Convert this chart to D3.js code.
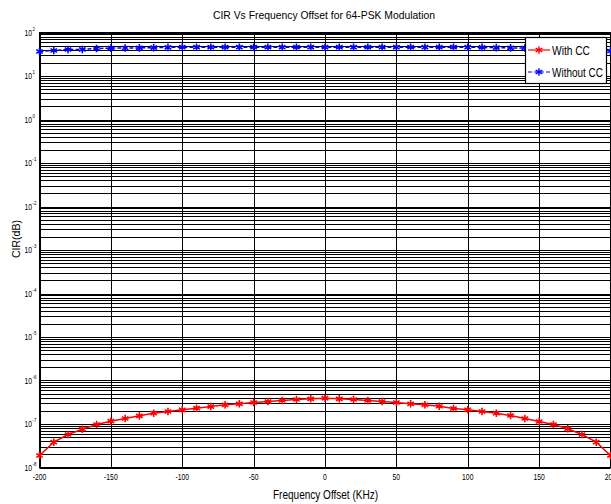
<!DOCTYPE html>
<html>
<head>
<meta charset="utf-8">
<script src="https://cdn.jsdelivr.net/npm/d3@7"></script>
<style>
  body { margin: 0; background: #fff; }
  svg text { font-family: "Liberation Sans", Arial, sans-serif; }
</style>
</head>
<body>
<div id="chart"></div>
<script>
// frequency offsets (KHz)
const freq = [-200, -190, -180, -170, -160, -150, -140, -130, -120, -110, -100,
  -90, -80, -70, -60, -50, -40, -30, -20, -10, 0,
  10, 20, 30, 40, 50, 60, 70, 80, 90, 100,
  110, 120, 130, 140, 150, 160, 170, 180, 190, 200];

// With CC (red)
const withCC = [1.89e-8, 3.82e-8, 5.74e-8, 7.6e-8, 9.75e-8, 1.16e-7, 1.34e-7, 1.54e-7, 1.77e-7, 1.94e-7, 2.12e-7,
  2.31e-7, 2.52e-7, 2.76e-7, 2.91e-7, 3.12e-7, 3.29e-7, 3.47e-7, 3.66e-7, 3.79e-7, 3.92e-7,
  3.79e-7, 3.66e-7, 3.47e-7, 3.29e-7, 3.12e-7, 2.91e-7, 2.76e-7, 2.56e-7, 2.27e-7, 2.12e-7,
  1.94e-7, 1.77e-7, 1.57e-7, 1.34e-7, 1.14e-7, 9.75e-8, 7.76e-8, 5.74e-8, 3.82e-8, 1.89e-8];

// Without CC (blue)
const withoutCC = [36.6, 38.5, 40.6, 40.8, 42.9, 43.8, 44.0, 44.3, 45.0, 45.4, 45.9,
  45.9, 45.9, 45.9, 45.9, 45.9, 45.9, 45.9, 45.9, 45.9, 45.9,
  45.9, 45.9, 45.9, 45.9, 45.9, 45.9, 45.9, 45.9, 45.9, 45.9,
  45.4, 45.0, 44.3, 44.0, 43.8, 42.9, 40.8, 40.6, 38.5, 37.5];

const xTicks = [-200, -150, -100, -50, 0, 50, 100, 150, 200];
const yExponents = [-8, -7, -6, -5, -4, -3, -2, -1, 0, 1, 2];
const seriesNames = ["With CC", "Without CC"];

const width = 611, height = 504;
const plot = { left: 39.5, right: 610.5, top: 32.5, bottom: 467.5 };
const squeeze = 0.8; // narrow look of the original font

const svg = d3.select("#chart").append("svg")
  .attr("width", width)
  .attr("height", height);

const x = d3.scaleLinear().domain([-200, 200]).range([plot.left, plot.right]);
const y = d3.scaleLog().domain([1e-8, 1e2]).range([plot.bottom, plot.top]);

// minor grid (horizontal)
const minor = [];
yExponents.slice(0, -1).forEach(e => {
  for (let m = 1; m <= 9; m++) minor.push(m * Math.pow(10, e));
});
minor.push(1e2);

const grid = svg.append("g");
grid.selectAll("line.h").data(minor).enter().append("line")
  .attr("class", "h")
  .attr("x1", plot.left).attr("x2", plot.right)
  .attr("y1", d => Math.round(y(d)) + 0.5)
  .attr("y2", d => Math.round(y(d)) + 0.5)
  .attr("stroke", "#000")
  .attr("stroke-width", 1);

grid.selectAll("line.v").data(xTicks).enter().append("line")
  .attr("class", "v")
  .attr("x1", d => Math.round(x(d)) + 0.5)
  .attr("x2", d => Math.round(x(d)) + 0.5)
  .attr("y1", plot.top).attr("y2", plot.bottom)
  .attr("stroke", "#000")
  .attr("stroke-width", 1);

// frame
svg.append("rect")
  .attr("x", plot.left).attr("y", plot.top)
  .attr("width", plot.right - plot.left).attr("height", plot.bottom - plot.top)
  .attr("fill", "none").attr("stroke", "#000").attr("stroke-width", 1);

// x tick labels
svg.append("g").selectAll("text").data(xTicks).enter().append("text")
  .attr("transform", d => `translate(${x(d)},480) scale(${squeeze},1)`)
  .attr("text-anchor", "middle")
  .attr("font-size", 8.5)
  .text(d => d);

// y tick labels 10^k
const yl = svg.append("g").selectAll("g").data(yExponents).enter().append("g")
  .attr("transform", d => `translate(0,${y(Math.pow(10, d))})`);
yl.append("text")
  .attr("transform", `translate(32,3) scale(${squeeze},1)`)
  .attr("text-anchor", "end")
  .attr("font-size", 8.5)
  .text("10");
yl.append("text")
  .attr("transform", `translate(32.5,-2) scale(${squeeze},1)`)
  .attr("font-size", 5.5)
  .text(d => d);

// series
const line = d3.line().x((d, i) => x(freq[i])).y(d => y(d));
const series = [
  { name: seriesNames[0], values: withCC, color: "#ff0000", dash: null },
  { name: seriesNames[1], values: withoutCC, color: "#0000ff", dash: "4,2" }
];
const marker = d3.symbol().type(d3.symbolAsterisk).size(40);

series.forEach(s => {
  svg.append("path")
    .datum(s.values)
    .attr("fill", "none")
    .attr("stroke", s.color)
    .attr("stroke-width", 1.5)
    .attr("stroke-dasharray", s.dash)
    .attr("d", line);
  svg.append("g").selectAll("path").data(s.values).enter().append("path")
    .attr("transform", (d, i) => `translate(${x(freq[i])},${y(d)})`)
    .attr("d", marker)
    .attr("fill", "none")
    .attr("stroke", s.color)
    .attr("stroke-width", 1.6);
});

// title and axis labels
svg.append("text")
  .attr("x", 324).attr("y", 19)
  .attr("text-anchor", "middle")
  .attr("font-size", 11.5)
  .attr("textLength", 222)
  .attr("lengthAdjust", "spacingAndGlyphs")
  .text("CIR Vs Frequency Offset for 64-PSK Modulation");

svg.append("text")
  .attr("x", 325.5).attr("y", 499)
  .attr("text-anchor", "middle")
  .attr("font-size", 13.5)
  .attr("textLength", 105)
  .attr("lengthAdjust", "spacingAndGlyphs")
  .text("Frequency Offset (KHz)");

svg.append("text")
  .attr("transform", "translate(20,239) rotate(-90)")
  .attr("text-anchor", "middle")
  .attr("font-size", 11)
  .attr("textLength", 38)
  .attr("lengthAdjust", "spacingAndGlyphs")
  .text("CIR(dB)");

// legend
const lg = svg.append("g");
lg.append("rect")
  .attr("x", 525.5).attr("y", 37.5)
  .attr("width", 81).attr("height", 46)
  .attr("fill", "#fff").attr("stroke", "#000").attr("stroke-width", 1.2);
const legendWidths = [38, 51];
series.forEach((s, i) => {
  const ly = 50 + i * 22;
  lg.append("line")
    .attr("x1", 528).attr("x2", 550)
    .attr("y1", ly).attr("y2", ly)
    .attr("stroke", s.color).attr("stroke-width", 1.2)
    .attr("stroke-dasharray", s.dash);
  lg.append("path")
    .attr("transform", `translate(539,${ly})`)
    .attr("d", marker)
    .attr("fill", "none").attr("stroke", s.color).attr("stroke-width", 1.4);
  lg.append("text")
    .attr("x", 552).attr("y", ly + 4.5)
    .attr("font-size", 12.5)
    .attr("textLength", legendWidths[i])
    .attr("lengthAdjust", "spacingAndGlyphs")
    .text(s.name);
});
</script>
</body>
</html>
